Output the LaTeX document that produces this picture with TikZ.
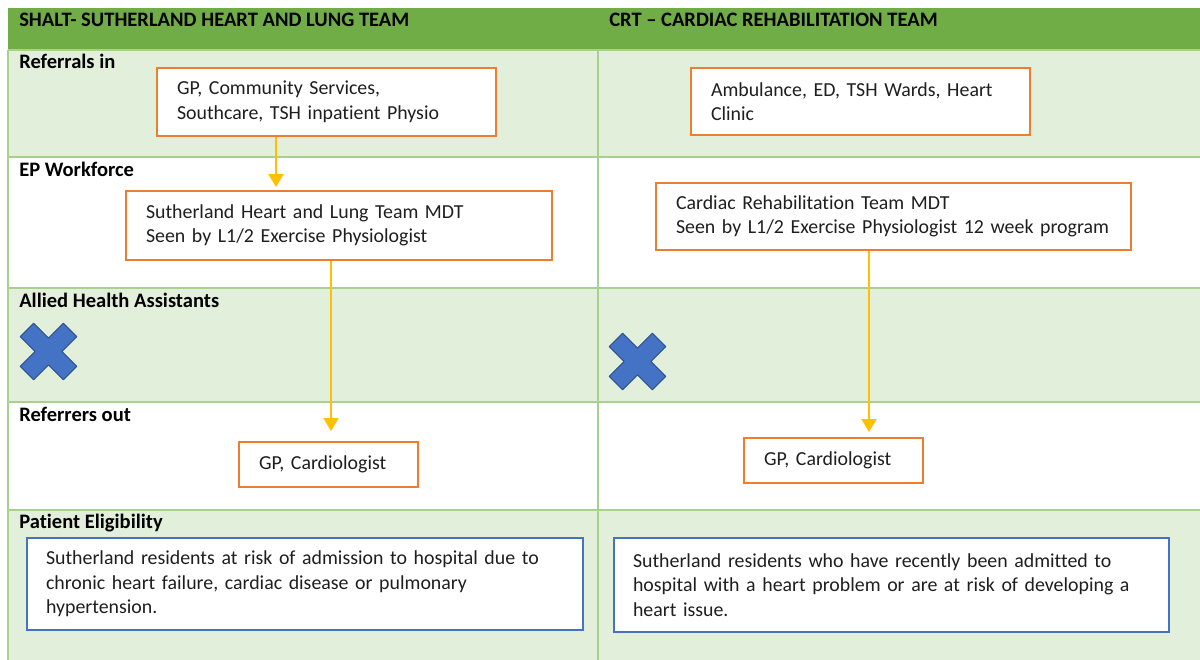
\documentclass[tikz,border=0pt]{standalone}
\usepackage{fontspec}
\setmainfont{Carlito}[Ligatures=NoCommon]
\usetikzlibrary{arrows.meta}
\newlength\pxu
\setlength\pxu{0.75pt}
\hyphenpenalty=10000
\exhyphenpenalty=10000
\hbadness=10000
\hfuzz=20pt
\definecolor{hdrgreen}{HTML}{70AD47}
\definecolor{bandgreen}{HTML}{E2EFDA}
\definecolor{gridgreen}{HTML}{A9D18E}
\definecolor{boxorange}{HTML}{ED7D31}
\definecolor{boxblue}{HTML}{4472C4}
\definecolor{crossedge}{HTML}{2F528F}
\definecolor{flowyellow}{HTML}{FFC000}
\definecolor{ink}{HTML}{1F1F1F}
\begin{document}
\begin{tikzpicture}[x=0.75pt,y=-0.75pt,
  txt/.style={font=\fontsize{14.9}{18.4}\selectfont, text=ink},
  lbl/.style={font=\fontsize{15.4}{18.4}\selectfont\bfseries, text=black, anchor=base west, inner sep=0pt},
  gridline/.style={draw=gridgreen, line width=1.5pt},
  obox/.style={txt, draw=boxorange, line width=1.5pt, fill=white, align=left,
    inner xsep=15pt, inner ysep=0pt},
  bbox/.style={txt, draw=boxblue, line width=1.5pt, fill=white, align=left,
    inner xsep=14.25pt, inner ysep=0pt},
  flow/.style={draw=flowyellow, line width=1.5pt,
    -{Triangle[width=11.25pt,length=9.75pt]}},
  nocross/.style={fill=boxblue, draw=crossedge, line width=0.75pt, line join=round}
]
\useasboundingbox (0,0) rectangle (1200,660);
\fill[white] (0,0) rectangle (1200,660);

% table bands
\fill[hdrgreen]  (8,8)   rectangle (1200,50);
\fill[bandgreen] (8,50)  rectangle (1200,157);
\fill[bandgreen] (8,288) rectangle (1200,402);
\fill[bandgreen] (8,510) rectangle (1200,660);

% grid lines
\foreach \yy in {50,157,288,402,510}
  \draw[gridline] (8,\yy) -- (1200,\yy);
\draw[gridline] (8,50) -- (8,660);
\draw[gridline] (598,50) -- (598,660);

% column headings
\node[lbl] (hleft)  at (19,27)  {SHALT- SUTHERLAND HEART AND LUNG TEAM};
\node[lbl] (hright) at (609,27) {CRT – CARDIAC REHABILITATION TEAM};

% row headings
\node[lbl] (r1) at (19,68.6)  {Referrals in};
\node[lbl] (r2) at (19,176.6) {EP Workforce};
\node[lbl] (r3) at (19,307.6) {Allied Health Assistants};
\node[lbl] (r4) at (19,421.6) {Referrers out};
\node[lbl] (r5) at (19,528.6) {Patient Eligibility};

% referrals in
\node[obox, text width=299\pxu, minimum height=68\pxu] (A) at (326.5,102)
  {GP, Community Services,\\Southcare, TSH inpatient Physio};
\node[obox, text width=299\pxu, minimum height=67\pxu] (B) at (860.5,101.5)
  {Ambulance, ED, TSH Wards, Heart\\Clinic};

% EP workforce
\node[obox, text width=386\pxu, minimum height=69\pxu] (C) at (339,225.5)
  {Sutherland Heart and Lung Team MDT\\Seen by L1/2 Exercise Physiologist};
\node[obox, text width=435\pxu, minimum height=67\pxu] (D) at (893.5,216.5)
  {Cardiac Rehabilitation Team MDT\\\mbox{Seen by L1/2 Exercise Physiologist 12 week program}};

% referrers out
\node[obox, text width=139\pxu, minimum height=45\pxu] (E) at (328.5,464.5)
  {GP, Cardiologist};
\node[obox, text width=139\pxu, minimum height=45\pxu] (F) at (833.5,460.5)
  {GP, Cardiologist};

% patient eligibility
\node[bbox, text width=518\pxu, minimum height=92\pxu] (G) at (305,584)
  {Sutherland residents at risk of admission to hospital due to\\chronic heart failure, cardiac disease or pulmonary\\hypertension.};
\node[bbox, text width=517\pxu, minimum height=94\pxu] (H) at (891.5,585)
  {Sutherland residents who have recently been admitted to\\hospital with a heart problem or are at risk of developing a\\heart issue.};

% flow arrows
\draw[flow, shorten >=2.25pt] ([xshift=-37.875pt]A.south) -- ([xshift=-37.875pt]A.south |- C.north);
\draw[flow, shorten >=7.5pt] ([xshift=-6pt]C.south) -- ([xshift=-6pt]C.south |- E.north);
\draw[flow, shorten >=3.75pt] ([xshift=-18.375pt]D.south) -- ([xshift=-18.375pt]D.south |- F.north);

% "none" crosses for allied health assistants
\foreach \cx/\cy in {48.5/351.5, 637.5/361.5}
  \path[nocross, shift={(\cx,\cy)}, rotate=45]
    (9.5,9.5) -- (30.5,9.5) -- (30.5,-9.5) -- (9.5,-9.5) -- (9.5,-30.5) -- (-9.5,-30.5)
    -- (-9.5,-9.5) -- (-30.5,-9.5) -- (-30.5,9.5) -- (-9.5,9.5) -- (-9.5,30.5) -- (9.5,30.5) -- cycle;
\end{tikzpicture}
\end{document}
